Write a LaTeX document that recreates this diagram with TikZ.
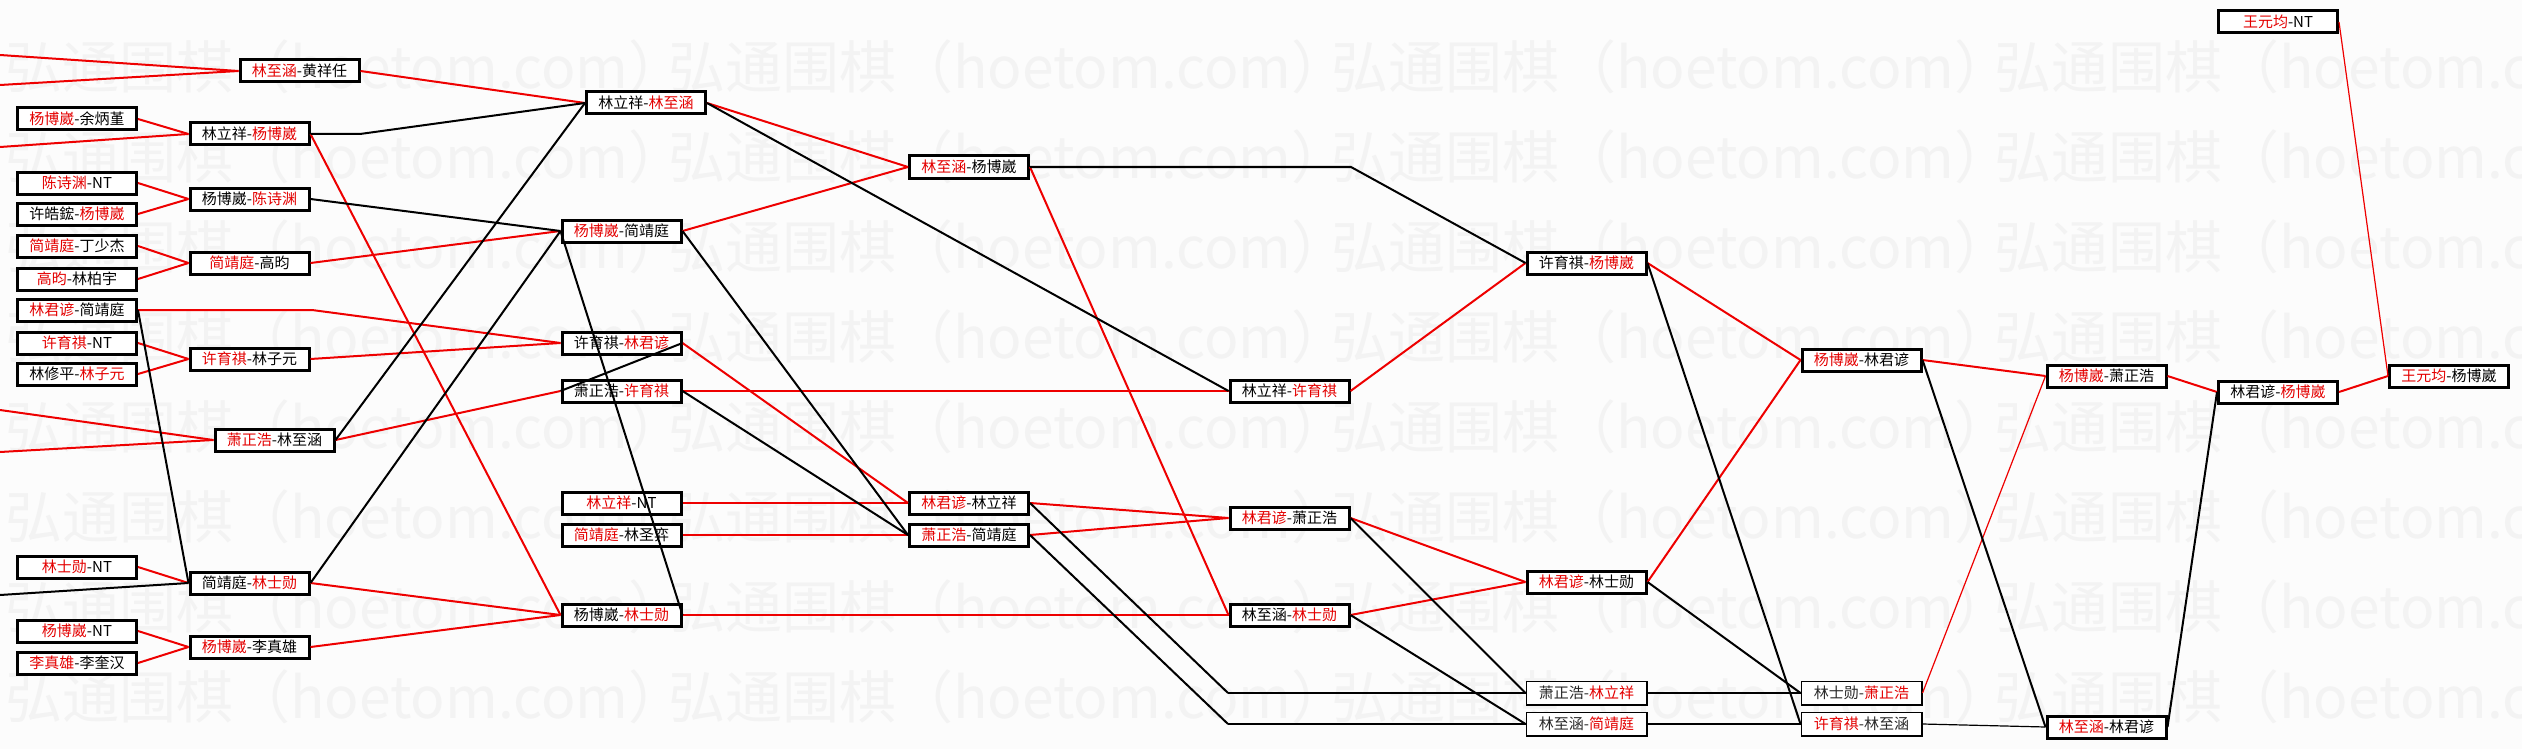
\documentclass[tikz,border=0pt]{standalone}
\usepackage{fontspec}
\setmainfont{Noto Sans CJK SC}
\definecolor{lnred}{RGB}{238,0,0}
\definecolor{txred}{RGB}{228,0,0}
\definecolor{wmgray}{RGB}{243,243,243}
\definecolor{bggray}{RGB}{252,252,252}
\definecolor{lightink}{RGB}{40,40,40}
\newcommand{\redpart}[1]{\textcolor{txred}{#1}}
\begin{document}
\begin{tikzpicture}[x=1pt,y=-1pt,
  box/.style={draw=black,line width=3pt,fill=white,minimum width=119pt,minimum height=22pt,inner sep=0pt,font=\fontsize{15}{15}\selectfont},
  tbox/.style={box,line width=1.6pt,minimum width=120.4pt,minimum height=23.4pt,text=lightink},
  rline/.style={draw=lnred,line width=2pt},
  bline/.style={draw=black,line width=2pt},
  thinline/.style={line width=1.2pt},
  wmark/.style={anchor=west,inner sep=0pt,text=wmgray,font=\fontsize{57}{57}\selectfont}]
\useasboundingbox (0,0) rectangle (2522,749);
\fill[bggray] (0,0) rectangle (2522,749);
% watermark
\begin{scope}
\clip (0,0) rectangle (2522,749);
\foreach \r in {0,...,7}{
  \foreach \c in {0,...,3}{
    \node[wmark] (wm-\r-\c) at (5+663*\c,67+90*\r) {弘通围棋（hoetom.com）};
  }
}
\end{scope}
% free ends at the left edge
\coordinate (e1) at (0,55);
\coordinate (e2) at (0,85);
\coordinate (e3) at (0,147);
\coordinate (e4) at (0,410);
\coordinate (e5) at (0,452);
\coordinate (e6) at (0,595);
% bends
\coordinate (k1) at (312,310);
\coordinate (k2) at (360,134);
\coordinate (k3) at (1351,167);
\coordinate (k4) at (1228,693);
\coordinate (k5) at (1228,724);
% column 0
\node[box] (n0a) at (77,119) {\redpart{杨博崴}-余炳堇};
\node[box] (n0b) at (77,183) {\redpart{陈诗渊}-NT};
\node[box] (n0c) at (77,214) {许皓鋐-\redpart{杨博崴}};
\node[box] (n0d) at (77,246) {\redpart{简靖庭}-丁少杰};
\node[box] (n0e) at (77,279) {\redpart{高昀}-林柏宇};
\node[box] (n0f) at (77,310) {\redpart{林君谚}-简靖庭};
\node[box] (n0g) at (77,343) {\redpart{许育祺}-NT};
\node[box] (n0h) at (77,374) {林修平-\redpart{林子元}};
\node[box] (n0i) at (77,567) {\redpart{林士勋}-NT};
\node[box] (n0j) at (77,631) {\redpart{杨博崴}-NT};
\node[box] (n0k) at (77,663) {\redpart{李真雄}-李奎汉};
% column 1
\node[box] (n1a) at (299.5,71) {\redpart{林至涵}-黄祥任};
\node[box] (n1b) at (249.5,134) {林立祥-\redpart{杨博崴}};
\node[box] (n1c) at (249.5,199) {杨博崴-\redpart{陈诗渊}};
\node[box] (n1d) at (249.5,263) {\redpart{简靖庭}-高昀};
\node[box] (n1e) at (249.5,359) {\redpart{许育祺}-林子元};
\node[box] (n1f) at (274.5,440) {\redpart{萧正浩}-林至涵};
\node[box] (n1g) at (249.5,583) {简靖庭-\redpart{林士勋}};
\node[box] (n1h) at (249.5,647) {\redpart{杨博崴}-李真雄};
% column 2
\node[box] (n2a) at (646,103) {林立祥-\redpart{林至涵}};
\node[box] (n2b) at (621.5,231) {\redpart{杨博崴}-简靖庭};
\node[box] (n2c) at (621.5,343) {许育祺-\redpart{林君谚}};
\node[box] (n2d) at (621.5,391) {萧正浩-\redpart{许育祺}};
\node[box] (n2e) at (621.5,503) {\redpart{林立祥}-NT};
\node[box] (n2f) at (621.5,535) {\redpart{简靖庭}-林圣弈};
\node[box] (n2g) at (621.5,615) {杨博崴-\redpart{林士勋}};
% column 3
\node[box] (n3a) at (969,167) {\redpart{林至涵}-杨博崴};
\node[box] (n3b) at (969,503) {\redpart{林君谚}-林立祥};
\node[box] (n3c) at (969,535) {\redpart{萧正浩}-简靖庭};
% column 4
\node[box] (n4a) at (1289.5,391) {林立祥-\redpart{许育祺}};
\node[box] (n4b) at (1289.5,518) {\redpart{林君谚}-萧正浩};
\node[box] (n4c) at (1289.5,615) {林至涵-\redpart{林士勋}};
% column 5
\node[box] (n5a) at (1586.5,263) {许育祺-\redpart{杨博崴}};
\node[box] (n5b) at (1586.5,582) {\redpart{林君谚}-林士勋};
\node[tbox] (n5c) at (1586.5,693) {萧正浩-\redpart{林立祥}};
\node[tbox] (n5d) at (1586.5,724) {林至涵-\redpart{简靖庭}};
% column 6
\node[box] (n6a) at (1861.5,360) {\redpart{杨博崴}-林君谚};
\node[tbox] (n6b) at (1861.5,693) {林士勋-\redpart{萧正浩}};
\node[tbox] (n6c) at (1861.5,724) {\redpart{许育祺}-林至涵};
% column 7
\node[box] (n7a) at (2106.5,376) {\redpart{杨博崴}-萧正浩};
\node[box] (n7b) at (2106.5,727) {\redpart{林至涵}-林君谚};
% column 8
\node[box] (n8a) at (2278,392) {林君谚-\redpart{杨博崴}};
\node[box] (n8b) at (2278,22) {\redpart{王元均}-NT};
% column 9
\node[box] (n9a) at (2449,376) {\redpart{王元均}-杨博崴};
% red connectors
\draw[rline] (e1) -- (n1a.west);
\draw[rline] (e2) -- (n1a.west);
\draw[rline] (e3) -- (n1b.west);
\draw[rline] (n0a.east) -- (n1b.west);
\draw[rline] (n0b.east) -- (n1c.west);
\draw[rline] (n0c.east) -- (n1c.west);
\draw[rline] (n0d.east) -- (n1d.west);
\draw[rline] (n0e.east) -- (n1d.west);
\draw[rline] (n0f.east) -- (k1) -- (n2c.west);
\draw[rline] (n0g.east) -- (n1e.west);
\draw[rline] (n0h.east) -- (n1e.west);
\draw[rline] (e4) -- (n1f.west);
\draw[rline] (e5) -- (n1f.west);
\draw[rline] (n0i.east) -- (n1g.west);
\draw[rline] (n0j.east) -- (n1h.west);
\draw[rline] (n0k.east) -- (n1h.west);
\draw[rline] (n1a.east) -- (n2a.west);
\draw[rline] (n1b.east) -- (n2g.west);
\draw[rline] (n1d.east) -- (n2b.west);
\draw[rline] (n1e.east) -- (n2c.west);
\draw[rline] (n1f.east) -- (n2d.west);
\draw[rline] (n1g.east) -- (n2g.west);
\draw[rline] (n1h.east) -- (n2g.west);
\draw[rline] (n2a.east) -- (n3a.west);
\draw[rline] (n2b.east) -- (n3a.west);
\draw[rline] (n2c.east) -- (n3b.west);
\draw[rline] (n2d.east) -- (n4a.west);
\draw[rline] (n2e.east) -- (n3b.west);
\draw[rline] (n2f.east) -- (n3c.west);
\draw[rline] (n2g.east) -- (n4c.west);
\draw[rline] (n3a.east) -- (n4c.west);
\draw[rline] (n3b.east) -- (n4b.west);
\draw[rline] (n3c.east) -- (n4b.west);
\draw[rline] (n4a.east) -- (n5a.west);
\draw[rline] (n4b.east) -- (n5b.west);
\draw[rline] (n4c.east) -- (n5b.west);
\draw[rline] (n5a.east) -- (n6a.west);
\draw[rline] (n5b.east) -- (n6a.west);
\draw[rline] (n6a.east) -- (n7a.west);
\draw[rline,thinline] (n6b.east) -- (n7a.west);
\draw[rline] (n7a.east) -- (n8a.west);
\draw[rline] (n8a.east) -- (n9a.west);
\draw[rline,thinline] (n8b.east) -- (n9a.west);
% black connectors
\draw[bline] (e6) -- (n1g.west);
\draw[bline] (n0f.east) -- (n1g.west);
\draw[bline] (n1b.east) -- (k2) -- (n2a.west);
\draw[bline] (n1c.east) -- (n2b.west);
\draw[bline] (n1f.east) -- (n2a.west);
\draw[bline] (n1g.east) -- (n2b.west);
\draw[bline] (n2b.west) -- (n2g.east);
\draw[bline] (n2b.east) -- (n3c.west);
\draw[bline] (n2c.east) -- (n2d.west);
\draw[bline] (n2d.east) -- (n3c.west);
\draw[bline] (n2a.east) -- (n4a.west);
\draw[bline] (n3a.east) -- (k3) -- (n5a.west);
\draw[bline] (n3b.east) -- (k4);
\draw[bline,thinline] (k4) -- (n5c.west);
\draw[bline] (n3c.east) -- (k5);
\draw[bline,thinline] (k5) -- (n5d.west);
\draw[bline] (n4b.east) -- (n5c.west);
\draw[bline] (n4c.east) -- (n5d.west);
\draw[bline] (n5a.east) -- (n6c.west);
\draw[bline] (n5b.east) -- (n6b.west);
\draw[bline,thinline] (n5c.east) -- (n6b.west);
\draw[bline,thinline] (n5d.east) -- (n6c.west);
\draw[bline] (n6a.east) -- (n7b.west);
\draw[bline,thinline] (n6c.east) -- (n7b.west);
\draw[bline] (n7b.east) -- (n8a.west);
\end{tikzpicture}
\end{document}
